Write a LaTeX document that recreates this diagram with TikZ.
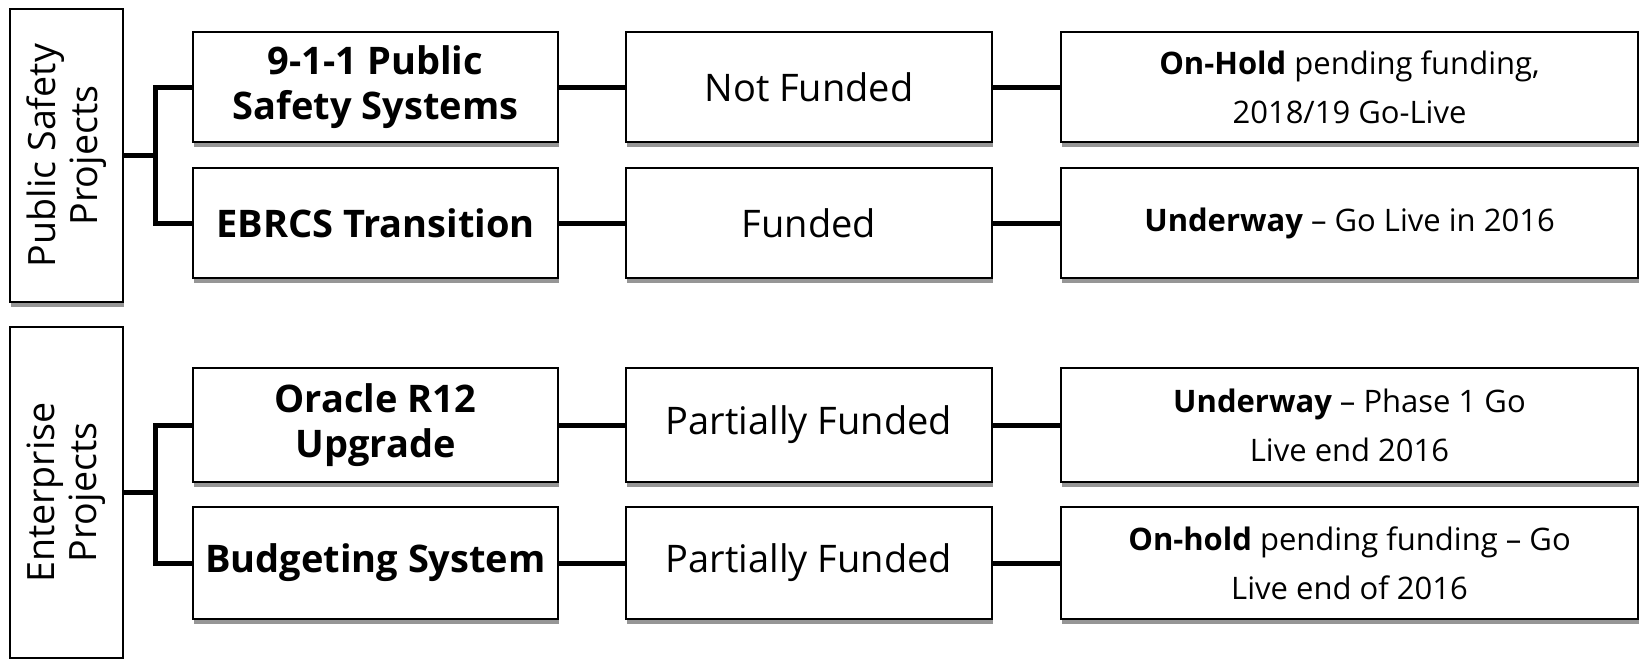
\documentclass[tikz,border=0pt]{standalone}
\usepackage{fontspec}
\setmainfont{Open Sans}
\usetikzlibrary{shadows}
\begin{document}
\begin{tikzpicture}[x=0.5pt,y=-0.5pt,
    box/.style={draw,line width=1.3pt,fill=white,inner sep=0pt,outer sep=0pt,align=center,
      drop shadow={shadow xshift=0.6pt,shadow yshift=-2.6pt,fill=black!55,opacity=0.75}},
    catbox/.style={box,rotate=90,minimum height=56.5pt,font=\fontsize{18.8}{21}\selectfont},
    projbox/.style={box,minimum width=182.5pt,font=\bfseries\fontsize{19}{22.5}\selectfont},
    fundbox/.style={box,minimum width=183pt,font=\fontsize{19}{22}\selectfont},
    statbox/.style={box,minimum width=288.5pt,font=\fontsize{15.5}{24.5}\selectfont},
    link/.style={line width=2.5pt,line join=miter}]
  \useasboundingbox (0,0) rectangle (1640,659);
  \node[catbox,minimum width=146.5pt] (ps) at (66.5,155.5) {Public Safety\\Projects};
  \node[catbox,minimum width=165.5pt] (ent) at (66.5,492.5) {Enterprise\\Projects};
  \node[projbox,minimum height=55pt] (p1) at (375.5,87) {9-1-1 Public\\Safety Systems};
  \node[projbox,minimum height=55pt] (p2) at (375.5,223) {EBRCS Transition};
  \node[projbox,minimum height=57pt] (p3) at (375.5,425) {Oracle R12\\Upgrade};
  \node[projbox,minimum height=56pt] (p4) at (375.5,563) {Budgeting System};
  \node[fundbox,minimum height=55pt] (f1) at (809,87) {Not Funded};
  \node[fundbox,minimum height=55pt] (f2) at (809,223) {Funded};
  \node[fundbox,minimum height=57pt] (f3) at (809,425) {Partially Funded};
  \node[fundbox,minimum height=56pt] (f4) at (809,563) {Partially Funded};
  \node[statbox,minimum height=55pt] (s1) at (1349.5,87) {\textbf{On-Hold} pending funding,\\2018/19 Go-Live};
  \node[statbox,minimum height=55pt] (s2) at (1349.5,223) {\textbf{Underway} -- Go Live in 2016};
  \node[statbox,minimum height=57pt] (s3) at (1349.5,425) {\textbf{Underway} -- Phase 1 Go\\Live end 2016};
  \node[statbox,minimum height=56pt] (s4) at (1349.5,563) {\textbf{On-hold} pending funding -- Go\\Live end of 2016};
  \coordinate (psj) at (155,155.5);
  \coordinate (entj) at (155,492.5);
  \draw[link] (ps.south) -- (psj);
  \draw[link] (p1.west) -| (psj) |- (p2.west);
  \draw[link] (ent.south) -- (entj);
  \draw[link] (p3.west) -| (entj) |- (p4.west);
  \draw[link] (p1) -- (f1) -- (s1);
  \draw[link] (p2) -- (f2) -- (s2);
  \draw[link] (p3) -- (f3) -- (s3);
  \draw[link] (p4) -- (f4) -- (s4);
\end{tikzpicture}
\end{document}
